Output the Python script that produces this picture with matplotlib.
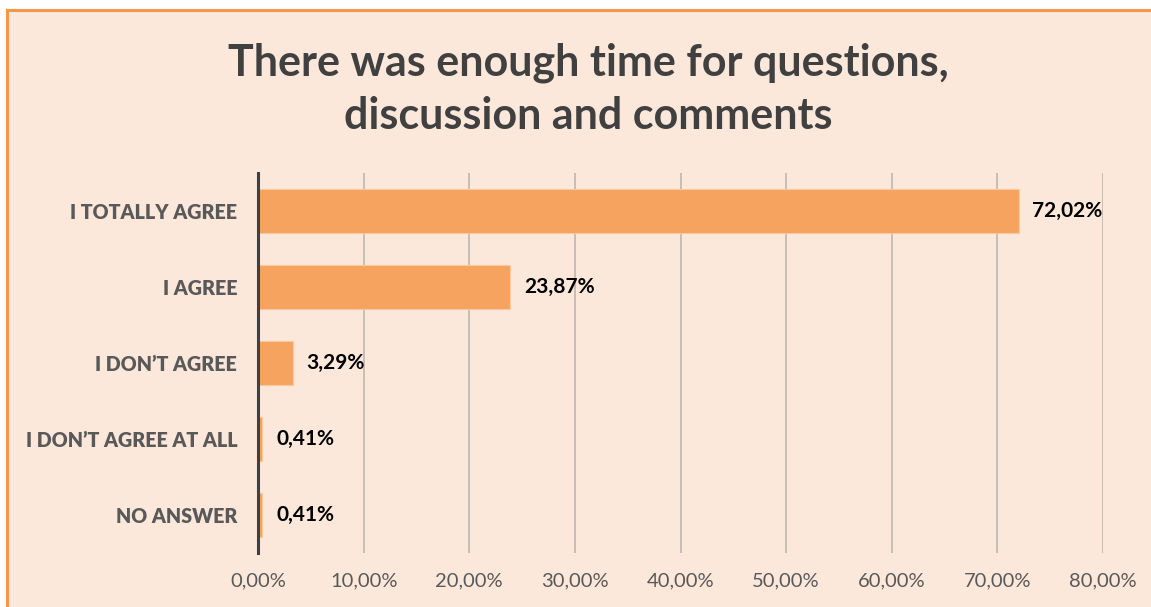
import matplotlib
matplotlib.use("Agg")
import matplotlib.pyplot as plt
from matplotlib.patches import Rectangle
from matplotlib.ticker import FuncFormatter

categories = ["I TOTALLY AGREE", "I AGREE", "I DON\u2019T AGREE", "I DON\u2019T AGREE AT ALL", "NO ANSWER"]
values = [72.02, 23.87, 3.29, 0.41, 0.41]
title = "There was enough time for questions,\ndiscussion and comments"
xticks = [0, 10, 20, 30, 40, 50, 60, 70, 80]

BG = "#FCE8DA"
BAR = "#F5A35E"
BORDER = "#F79646"
W, H = 1151, 607

fig = plt.figure(figsize=(W / 100, H / 100), dpi=100)
fig.patch.set_facecolor("white")

bg = fig.add_axes([0, 0, 1, 1], zorder=-5)
bg.set_xlim(0, 1)
bg.set_ylim(0, 1)
bg.axis("off")
bg.add_patch(Rectangle((7 / W, -0.02), 1.1, 1 - 10 / H + 0.02,
                       facecolor=BG, edgecolor=BORDER, linewidth=2.2, clip_on=False))

ax = fig.add_axes([258 / W, 1 - 553 / H, (1103 - 258) / W, (553 - 173) / H])
ax.set_facecolor("none")
y = list(range(len(categories)))
ax.barh(y, values, height=0.58, color=BAR, edgecolor="#F9C9A0", linewidth=0.8, zorder=3)
ax.set_ylim(len(categories) - 0.5, -0.5)
ax.set_xlim(0, 80)
ax.set_xticks(xticks)
ax.xaxis.set_major_formatter(FuncFormatter(lambda v, p: f"{v:.2f}%".replace(".", ",")))
ax.grid(axis="x", color="#BDB6B0", linewidth=1.2, zorder=1)
ax.set_axisbelow(True)
ax.set_yticks(y)
ax.set_yticklabels(categories, fontfamily="Lato", fontweight="heavy", fontsize=14.2, color="#595959")
ax.tick_params(axis="y", length=0, pad=15)
ax.tick_params(axis="x", length=0, pad=14, labelsize=14.5, labelcolor="#595959")
for lab in ax.get_xticklabels():
    lab.set_fontfamily("Lato")
for s in ["top", "right", "bottom"]:
    ax.spines[s].set_visible(False)
ax.spines["left"].set_color("#404040")
ax.spines["left"].set_linewidth(2.2)
ax.spines["left"].set_zorder(4)

for yi, v in zip(y, values):
    ax.text(v + 1.3, yi, f"{v:.2f}%".replace(".", ","), va="center", ha="left",
            fontfamily="Lato", fontweight="bold", fontsize=15, color="#000000", zorder=5)

fig.text(588 / W, 1 - 89 / H, title, ha="center", va="center", fontfamily="Lato",
         fontweight="bold", fontsize=31, color="#404040", linespacing=1.38)

fig.savefig("out.png", dpi=100, facecolor=fig.get_facecolor())
